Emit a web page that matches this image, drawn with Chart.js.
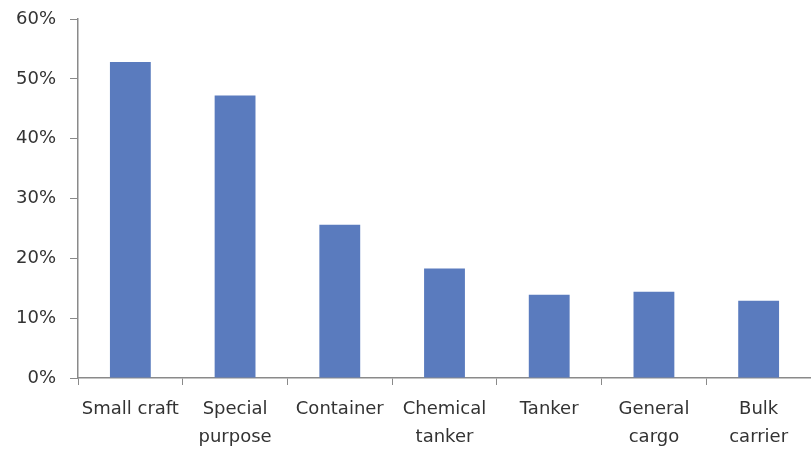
<!DOCTYPE html>
<html><head><meta charset="utf-8">
<script src="https://cdn.jsdelivr.net/npm/chart.js@4"></script>
<style>html,body{margin:0;padding:0;background:#fff}#wrap{width:811px;height:450px}</style>
</head><body><div id="wrap"><canvas id="c" width="811" height="450"></canvas></div>
<script>
const categories = [["Small craft"], ["Special", "purpose"], ["Container"], ["Chemical", "tanker"], ["Tanker"], ["General", "cargo"], ["Bulk", "carrier"]];
const values = [52.8, 47.2, 25.6, 18.3, 13.9, 14.4, 12.9];
const yTicks = [0, 10, 20, 30, 40, 50, 60];

const fam = "'DejaVu Sans', sans-serif";
new Chart(document.getElementById('c'), {
  type: 'bar',
  data: {labels: categories, datasets: [{data: values, backgroundColor: '#5a7bbe', borderWidth: 0, barPercentage: 0.39, categoryPercentage: 1}]},
  options: {
    responsive: false, animation: false,
    layout: {padding: {top: 19, right: 0, left: 0, bottom: 0}},
    plugins: {legend: {display: false}, tooltip: {enabled: false}},
    scales: {
      x: {
        grid: {display: true, drawOnChartArea: false, tickLength: 7, color: '#8a8a8a', offset: true},
        border: {color: '#8a8a8a', width: 1.5},
        ticks: {color: '#333333', font: {family: fam, size: 18, lineHeight: 1.55}, padding: 10, maxRotation: 0, autoSkip: false},
        afterFit: s => { s.height = 72; }
      },
      y: {
        min: 0, max: 60,
        afterBuildTicks: s => { s.ticks = yTicks.map(v => ({value: v})); },
        grid: {display: true, drawOnChartArea: false, tickLength: 8, color: '#8a8a8a'},
        border: {color: '#8a8a8a', width: 1.5},
        ticks: {color: '#333333', font: {family: fam, size: 18, lineHeight: 0.1}, padding: 14, callback: v => v + '%'},
        afterFit: s => { s.width = 78; }
      }
    }
  }
});
</script></body></html>
